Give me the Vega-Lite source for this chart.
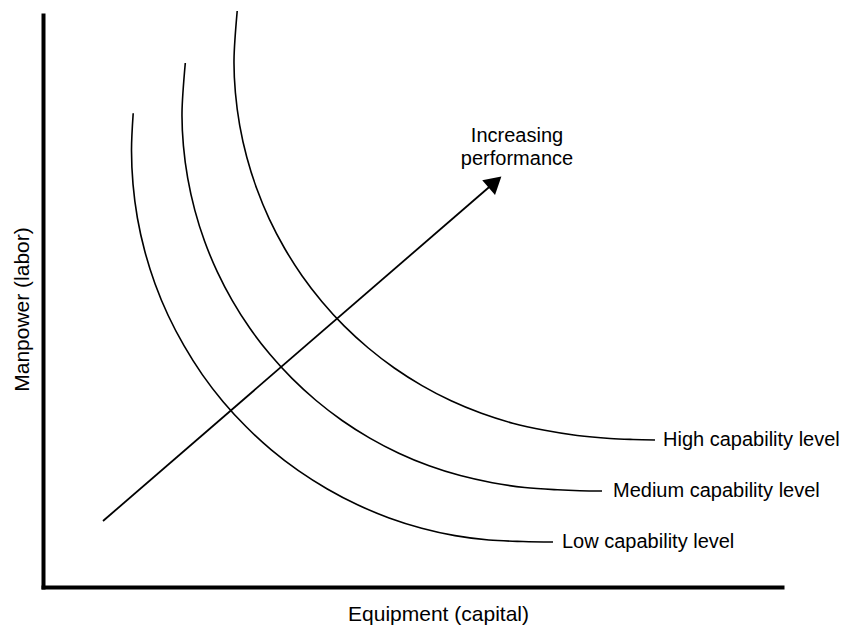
{
  "$schema": "https://vega.github.io/schema/vega-lite/v6.json",
  "width": 739,
  "height": 572,
  "autosize": {"type": "none"},
  "padding": {"left": 43, "top": 15, "right": 71, "bottom": 41},
  "background": "white",
  "config": {"view": {"stroke": null}, "font": "Liberation Sans"},
  "datasets": {
    "curves": [
      {"c": "Low", "i": 1, "x": 90.2, "y": 473.8},
      {"c": "Low", "i": 2, "x": 88.5, "y": 437},
      {"c": "Low", "i": 3, "x": 90.0, "y": 402.9},
      {"c": "Low", "i": 4, "x": 94.4, "y": 369},
      {"c": "Low", "i": 5, "x": 101.8, "y": 335.7},
      {"c": "Low", "i": 6, "x": 112.1, "y": 303.1},
      {"c": "Low", "i": 7, "x": 125.2, "y": 271.5},
      {"c": "Low", "i": 8, "x": 141.0, "y": 241.3},
      {"c": "Low", "i": 9, "x": 159.3, "y": 212.4},
      {"c": "Low", "i": 10, "x": 180.1, "y": 185.3},
      {"c": "Low", "i": 11, "x": 203.2, "y": 160.2},
      {"c": "Low", "i": 12, "x": 228.3, "y": 137.1},
      {"c": "Low", "i": 13, "x": 255.4, "y": 116.3},
      {"c": "Low", "i": 14, "x": 284.3, "y": 98.0},
      {"c": "Low", "i": 15, "x": 314.5, "y": 82.2},
      {"c": "Low", "i": 16, "x": 346.1, "y": 69.1},
      {"c": "Low", "i": 17, "x": 378.7, "y": 58.8},
      {"c": "Low", "i": 18, "x": 412.0, "y": 51.4},
      {"c": "Low", "i": 19, "x": 445.9, "y": 47.0},
      {"c": "Low", "i": 20, "x": 480.0, "y": 45.5},
      {"c": "Low", "i": 21, "x": 510.0, "y": 45.0},
      {"c": "Medium", "i": 1, "x": 142.3, "y": 524},
      {"c": "Medium", "i": 2, "x": 139.0, "y": 474.1},
      {"c": "Medium", "i": 3, "x": 140.4, "y": 441.4},
      {"c": "Medium", "i": 4, "x": 144.7, "y": 408.9},
      {"c": "Medium", "i": 5, "x": 151.8, "y": 376.9},
      {"c": "Medium", "i": 6, "x": 161.6, "y": 345.7},
      {"c": "Medium", "i": 7, "x": 174.2, "y": 315.4},
      {"c": "Medium", "i": 8, "x": 189.3, "y": 286.4},
      {"c": "Medium", "i": 9, "x": 206.9, "y": 258.7},
      {"c": "Medium", "i": 10, "x": 226.9, "y": 232.7},
      {"c": "Medium", "i": 11, "x": 249.0, "y": 208.6},
      {"c": "Medium", "i": 12, "x": 273.1, "y": 186.5},
      {"c": "Medium", "i": 13, "x": 299.1, "y": 166.5},
      {"c": "Medium", "i": 14, "x": 326.8, "y": 148.9},
      {"c": "Medium", "i": 15, "x": 355.8, "y": 133.8},
      {"c": "Medium", "i": 16, "x": 386.1, "y": 121.2},
      {"c": "Medium", "i": 17, "x": 417.3, "y": 111.4},
      {"c": "Medium", "i": 18, "x": 449.3, "y": 104.3},
      {"c": "Medium", "i": 19, "x": 481.8, "y": 99.5},
      {"c": "Medium", "i": 20, "x": 514.5, "y": 97.2},
      {"c": "Medium", "i": 21, "x": 537.0, "y": 96.3},
      {"c": "Medium", "i": 22, "x": 559.0, "y": 96.0},
      {"c": "High", "i": 1, "x": 194.2, "y": 576},
      {"c": "High", "i": 2, "x": 191.0, "y": 527},
      {"c": "High", "i": 3, "x": 192.4, "y": 494.2},
      {"c": "High", "i": 4, "x": 196.7, "y": 461.7},
      {"c": "High", "i": 5, "x": 203.8, "y": 429.7},
      {"c": "High", "i": 6, "x": 213.7, "y": 398.4},
      {"c": "High", "i": 7, "x": 226.2, "y": 368.1},
      {"c": "High", "i": 8, "x": 241.4, "y": 339.0},
      {"c": "High", "i": 9, "x": 259.0, "y": 311.3},
      {"c": "High", "i": 10, "x": 279.0, "y": 285.3},
      {"c": "High", "i": 11, "x": 301.1, "y": 261.1},
      {"c": "High", "i": 12, "x": 325.3, "y": 239.0},
      {"c": "High", "i": 13, "x": 351.3, "y": 219.0},
      {"c": "High", "i": 14, "x": 379.0, "y": 201.4},
      {"c": "High", "i": 15, "x": 408.1, "y": 186.2},
      {"c": "High", "i": 16, "x": 438.4, "y": 173.7},
      {"c": "High", "i": 17, "x": 469.7, "y": 163.8},
      {"c": "High", "i": 18, "x": 501.7, "y": 156.7},
      {"c": "High", "i": 19, "x": 534.2, "y": 151.5},
      {"c": "High", "i": 20, "x": 567.0, "y": 148.5},
      {"c": "High", "i": 21, "x": 590.0, "y": 147.5},
      {"c": "High", "i": 22, "x": 612.0, "y": 147.0}
    ],
    "arrow": [
      {"i": 1, "x": 60, "y": 66},
      {"i": 2, "x": 452, "y": 405}
    ],
    "head": [
      {"x": 452, "y": 405}
    ],
    "labels": [
      {"x": 620, "y": 147, "t": "High capability level"},
      {"x": 570, "y": 96, "t": "Medium capability level"},
      {"x": 519, "y": 45, "t": "Low capability level"}
    ],
    "note": [
      {"x": 474, "y": 445, "t": "Increasing\nperformance"}
    ]
  },
  "encoding": {
    "x": {
      "field": "x", "type": "quantitative",
      "scale": {"domain": [0, 739], "nice": false, "zero": false},
      "axis": {
        "title": "Equipment (capital)", "ticks": false, "labels": false, "grid": false,
        "domainColor": "black", "domainWidth": 4, "domainCap": "square",
        "titleX": 395, "titleY": 33, "titleBaseline": "alphabetic", "titleAlign": "center",
        "titleFontSize": 21, "titleFontWeight": "normal", "titleFont": "Liberation Sans", "titleColor": "black"
      }
    },
    "y": {
      "field": "y", "type": "quantitative",
      "scale": {"domain": [0, 572], "nice": false, "zero": false},
      "axis": {
        "title": "Manpower (labor)", "ticks": false, "labels": false, "grid": false,
        "domainColor": "black", "domainWidth": 4, "domainCap": "square",
        "titleX": -21, "titleY": 294, "titleBaseline": "middle", "titleAlign": "center", "titleAngle": 270,
        "titleFontSize": 21, "titleFontWeight": "normal", "titleFont": "Liberation Sans", "titleColor": "black"
      }
    }
  },
  "layer": [
    {
      "data": {"name": "curves"},
      "mark": {"type": "line", "interpolate": "catmull-rom", "color": "black", "strokeWidth": 1.6},
      "encoding": {"detail": {"field": "c"}, "order": {"field": "i", "type": "quantitative"}}
    },
    {
      "data": {"name": "arrow"},
      "mark": {"type": "line", "color": "black", "strokeWidth": 1.8},
      "encoding": {"order": {"field": "i", "type": "quantitative"}}
    },
    {
      "data": {"name": "head"},
      "mark": {"type": "point", "shape": "triangle-up", "filled": true, "size": 380, "angle": 49, "color": "black", "opacity": 1}
    },
    {
      "data": {"name": "labels"},
      "mark": {"type": "text", "align": "left", "baseline": "middle", "fontSize": 20, "font": "Liberation Sans", "color": "black"},
      "encoding": {"text": {"field": "t"}}
    },
    {
      "data": {"name": "note"},
      "mark": {"type": "text", "align": "center", "baseline": "alphabetic", "fontSize": 20, "lineHeight": 23, "lineBreak": "\n", "font": "Liberation Sans", "color": "black"},
      "encoding": {"text": {"field": "t"}}
    }
  ]
}
